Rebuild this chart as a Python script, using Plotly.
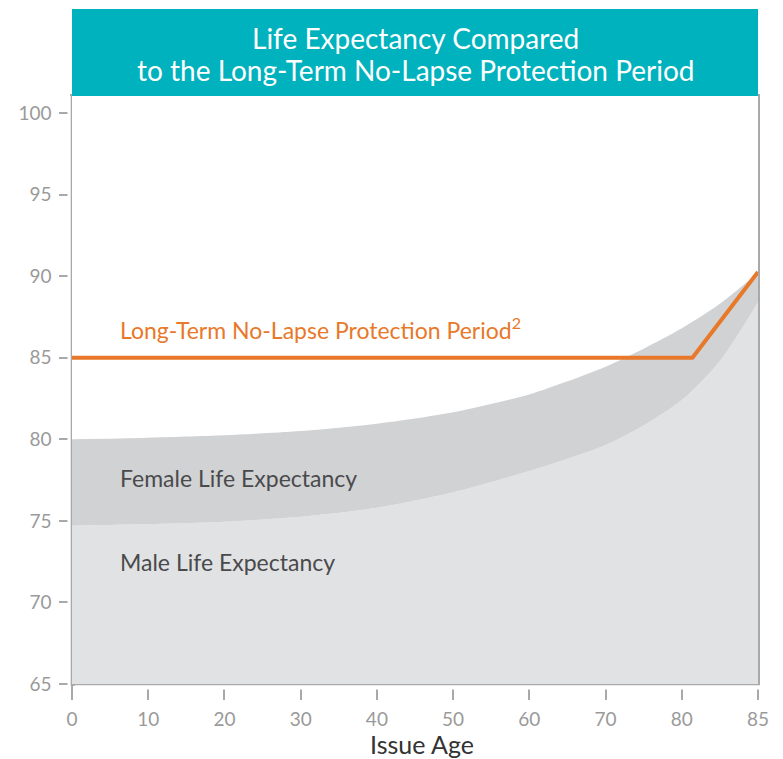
import plotly.graph_objects as go

# ---- data ----
curve_ages = [0, 10, 20, 30, 40, 50, 60, 65, 70, 75, 80, 82.5, 85]
female_le = [80.0, 80.1, 80.25, 80.5, 80.95, 81.65, 82.75, 83.55, 84.45, 85.55, 86.8, 88.3, 90.2]
male_le = [74.7, 74.8, 74.95, 75.25, 75.8, 76.75, 78.05, 78.8, 79.65, 80.85, 82.4, 84.8, 88.4]
nlp_ages = [0, 80.7, 85]
nlp_period = [85, 85, 90.25]
tick_ages = [0, 10, 20, 30, 40, 50, 60, 70, 80, 85]
y_ticks = [65, 70, 75, 80, 85, 90, 95, 100]

# axis: ticks are evenly spaced (last step is 5 years)
def age_pos(a):
    if a <= 80:
        return a / 10.0
    return 8 + (a - 80) / 5.0

cx = [age_pos(a) for a in curve_ages]
nx = [age_pos(a) for a in nlp_ages]
tx = [age_pos(a) for a in tick_ages]

TEAL = "#00b2bd"
ORANGE = "#e8782a"
FEM = "#d1d2d4"
MALE = "#e1e2e4"
AXIS = "#a9a9a9"
TICKTXT = "#9a9a9a"
DARK = "#4a4a4c"
FONT = "Lato"

fig = go.Figure()
fig.add_trace(go.Scatter(x=cx, y=male_le, mode="lines", line=dict(width=0, shape="spline", smoothing=0.8),
                         fill="tozeroy", fillcolor=MALE, hoverinfo="skip", showlegend=False))
fig.add_trace(go.Scatter(x=cx, y=female_le, mode="lines", line=dict(width=0, shape="spline", smoothing=0.8),
                         fill="tonexty", fillcolor=FEM, hoverinfo="skip", showlegend=False))
fig.add_trace(go.Scatter(x=nx, y=nlp_period, mode="lines", line=dict(width=4, color=ORANGE),
                         hoverinfo="skip", showlegend=False))

H = 588.0
W = 686.0
T = 88.0
fig.update_layout(
    width=775, height=751,
    margin=dict(l=64, r=25, t=88, b=75, autoexpand=False),
    paper_bgcolor="white", plot_bgcolor="white",
    font=dict(family=FONT),
    xaxis=dict(range=[0, 9], tickvals=tx, ticktext=[str(a) for a in tick_ages],
               showgrid=False, zeroline=False, showline=True, linecolor=AXIS, linewidth=1.5,
               ticks="outside", ticklen=14, tickwidth=1.5, tickcolor=AXIS, ticklabelstandoff=3,
               tickfont=dict(size=19, color=TICKTXT, family=FONT), mirror=True, automargin=False),
    yaxis=dict(range=[65, 101.04], tickvals=y_ticks,
               showgrid=False, zeroline=False, showline=True, linecolor=AXIS, linewidth=1.5,
               ticks="outside", ticklen=11, tickwidth=1.5, tickcolor=AXIS,
               tickfont=dict(size=19, color=TICKTXT, family=FONT), mirror=True,
               ticklabelstandoff=4, automargin=False),
    shapes=[
        dict(type="rect", xref="paper", yref="paper", x0=0, x1=1,
             y0=1, y1=1 + 87 / H, fillcolor=TEAL, line=dict(width=0), layer="above"),
        dict(type="rect", xref="paper", yref="paper", x0=0.004, x1=1.02,
             y0=-5.5 / H, y1=-1.3 / H, fillcolor="white", line=dict(width=0), layer="above"),
        dict(type="rect", xref="paper", yref="paper", x0=-4.5 / W, x1=-1.3 / W,
             y0=-0.005, y1=1, fillcolor="white", line=dict(width=0), layer="above"),
    ],
    annotations=[
        dict(text="Life Expectancy Compared",
             xref="paper", yref="paper", x=0.5, y=1 + (T - 30) / H, xanchor="center", yanchor="middle",
             showarrow=False, font=dict(size=28, color="white", family=FONT)),
        dict(text="to the Long-Term No-Lapse Protection Period",
             xref="paper", yref="paper", x=0.5, y=1 + (T - 62) / H, xanchor="center", yanchor="middle",
             showarrow=False, font=dict(size=28, color="white", family=FONT)),
        dict(text="Long-Term No-Lapse Protection Period<sup>2</sup>", xref="paper", yref="y",
             x=46 / W, y=86.82, xanchor="left", yanchor="middle", showarrow=False,
             font=dict(size=23, color=ORANGE, family=FONT)),
        dict(text="Female Life Expectancy", xref="paper", yref="y",
             x=46 / W, y=77.63, xanchor="left", yanchor="middle", showarrow=False,
             font=dict(size=23, color=DARK, family=FONT)),
        dict(text="Male Life Expectancy", xref="paper", yref="y",
             x=46 / W, y=72.48, xanchor="left", yanchor="middle", showarrow=False,
             font=dict(size=23, color=DARK, family=FONT)),
        dict(text="Issue Age", xref="paper", yref="paper", x=0.51, y=-60 / H,
             xanchor="center", yanchor="middle", showarrow=False,
             font=dict(size=25, color="#333333", family=FONT)),
    ],
)

fig.write_html("out.html")
